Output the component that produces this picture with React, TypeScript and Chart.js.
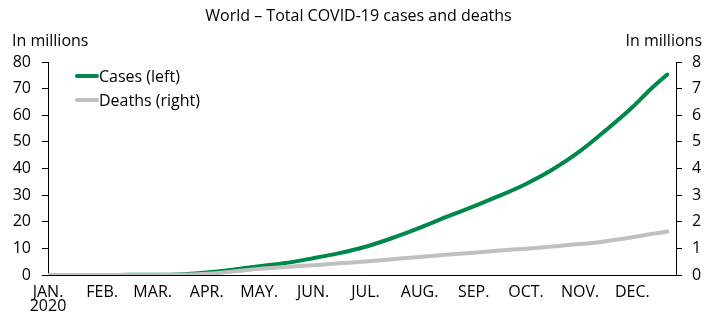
import React, { useEffect, useRef } from "react";
import { Chart, registerables } from "chart.js";

Chart.register(...registerables);

const chartTitle = "World – Total COVID-19 cases and deaths";
const leftUnit = "In millions";
const rightUnit = "In millions";
const monthLabels = ["JAN.", "FEB.", "MAR.", "APR.", "MAY.", "JUN.", "JUL.", "AUG.", "SEP.", "OCT.", "NOV.", "DEC."];
const yearLabel = "2020";
// day of year (2020) at which each month starts
const monthStartDays = [0, 31, 60, 91, 121, 152, 182, 213, 244, 274, 305, 335];
const xMaxDay = 360;

// sample days (day of year 2020)
const sampleDays = [0, 15, 31, 46, 60, 75, 91, 106, 121, 136, 152, 167, 182, 197, 213, 228, 244, 259, 274, 289, 305, 320, 335, 345, 355];
// Cases, millions (left axis)
const casesMillions = [0, 0, 0.01, 0.05, 0.09, 0.18, 0.9, 2.0, 3.3, 4.5, 6.3, 8.2, 10.6, 13.8, 17.7, 21.7, 25.8, 29.8, 34.2, 39.5, 46.5, 54.5, 63.0, 69.5, 75.3];
// Deaths, millions (right axis)
const deathsMillions = [0, 0, 0.0003, 0.0017, 0.003, 0.008, 0.047, 0.13, 0.23, 0.3, 0.37, 0.44, 0.51, 0.59, 0.68, 0.76, 0.84, 0.92, 0.99, 1.07, 1.16, 1.27, 1.42, 1.53, 1.63];

const seriesNames = ["Cases (left)", "Deaths (right)"];
const seriesColors = ["#00874a", "#c0c0c0"];

const FONT = '"Open Sans", sans-serif';

const overlayPlugin = {
  id: "overlayText",
  afterDraw(chart: any) {
    const ctx = chart.ctx;
    const area = chart.chartArea;
    ctx.save();
    ctx.fillStyle = "#000";
    ctx.font = `16px ${FONT}`;
    ctx.textBaseline = "alphabetic";
    // title
    ctx.textAlign = "center";
    ctx.fillText(chartTitle, chart.width / 2, 21);
    // unit labels
    ctx.textAlign = "left";
    ctx.fillText(leftUnit, 12, 46);
    ctx.textAlign = "right";
    ctx.fillText(rightUnit, chart.width - 15, 46);
    // legend
    const rows = [76, 100];
    chart.data.datasets.forEach((ds: any, i: number) => {
      const y = rows[i];
      ctx.strokeStyle = ds.borderColor;
      ctx.lineWidth = 4;
      ctx.lineCap = "round";
      ctx.beginPath();
      ctx.moveTo(area.left + 29, y);
      ctx.lineTo(area.left + 49, y);
      ctx.stroke();
      ctx.textAlign = "left";
      ctx.fillStyle = "#000";
      ctx.fillText(ds.label, area.left + 51, y + 6);
    });
    ctx.restore();
  },
};

export default function App() {
  const canvasRef = useRef<HTMLCanvasElement | null>(null);

  useEffect(() => {
    if (!canvasRef.current) return;
    const chart = new Chart(canvasRef.current, {
      type: "line",
      data: {
        datasets: [
          {
            label: seriesNames[0],
            data: sampleDays.map((d, i) => ({ x: d, y: casesMillions[i] })),
            borderColor: seriesColors[0],
            backgroundColor: seriesColors[0],
            borderWidth: 4,
            pointRadius: 0,
            cubicInterpolationMode: "monotone",
            borderCapStyle: "round",
            yAxisID: "yLeft",
            order: 1,
          },
          {
            label: seriesNames[1],
            data: sampleDays.map((d, i) => ({ x: d, y: deathsMillions[i] })),
            borderColor: seriesColors[1],
            backgroundColor: seriesColors[1],
            borderWidth: 4,
            pointRadius: 0,
            cubicInterpolationMode: "monotone",
            borderCapStyle: "round",
            yAxisID: "yRight",
            order: 0,
          },
        ],
      },
      options: {
        responsive: false,
        animation: false,
        devicePixelRatio: 1,
        layout: { padding: { top: 62, left: 0, right: 0, bottom: 0 } },
        plugins: {
          legend: { display: false },
          title: { display: false },
          tooltip: { enabled: false },
        },
        scales: {
          x: {
            type: "linear",
            min: 0,
            max: xMaxDay,
            afterBuildTicks: (scale: any) => {
              scale.ticks = monthStartDays.map((v) => ({ value: v }));
            },
            afterFit: (scale: any) => {
              scale.height = 37;
            },
            grid: { display: false, drawTicks: false },
            border: { display: true, color: "#000", width: 1 },
            ticks: {
              autoSkip: false,
              maxRotation: 0,
              minRotation: 0,
              padding: 10,
              color: "#000",
              font: { family: FONT, size: 16, lineHeight: 0.875 },
              callback: (_v: any, index: number) =>
                index === 0 ? [monthLabels[0], yearLabel] : monthLabels[index],
            },
          },
          yLeft: {
            type: "linear",
            position: "left",
            min: 0,
            max: 80,
            afterFit: (scale: any) => {
              scale.width = 48;
            },
            grid: { display: true, drawOnChartArea: false, drawTicks: true, tickLength: 6, color: "#000", lineWidth: 1 },
            border: { display: true, color: "#000", width: 1 },
            ticks: {
              stepSize: 10,
              padding: 11,
              color: "#000",
              font: { family: FONT, size: 16 },
            },
          },
          yRight: {
            type: "linear",
            position: "right",
            min: 0,
            max: 8,
            afterFit: (scale: any) => {
              scale.width = 41;
            },
            grid: { display: true, drawOnChartArea: false, drawTicks: true, tickLength: 6, color: "#000", lineWidth: 1 },
            border: { display: true, color: "#000", width: 1 },
            ticks: {
              stepSize: 1,
              padding: 10,
              color: "#000",
              font: { family: FONT, size: 16 },
            },
          },
        },
      },
      plugins: [overlayPlugin],
    } as any);
    return () => chart.destroy();
  }, []);

  return (
    <div style={{ position: "fixed", left: 0, top: 0, width: 717, height: 312, background: "#fff" }}>
      <canvas ref={canvasRef} width={717} height={312} style={{ width: 717, height: 312, display: "block" }} />
    </div>
  );
}
